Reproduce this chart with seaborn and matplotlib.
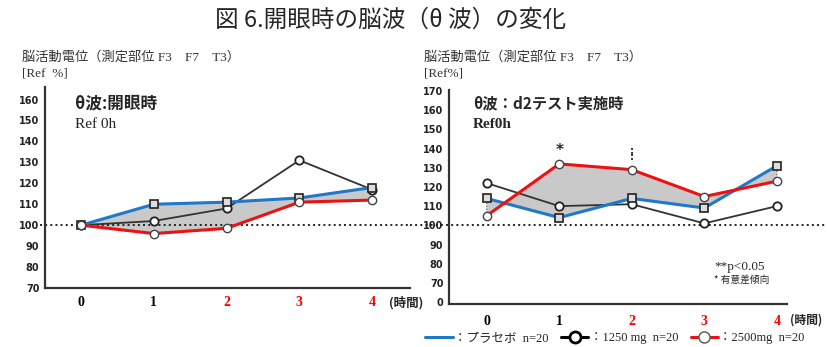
import pandas as pd
import seaborn as sns
import matplotlib.pyplot as plt
from matplotlib.lines import Line2D

sns.set_style('white')
plt.rcParams['font.family'] = ['DejaVu Sans', 'Noto Sans CJK JP']

# data
hours = [0, 1, 2, 3, 4]
hour_labels = ['0', '1', '2', '3', '4']
hour_colors = ['black', 'black', 'red', 'red', 'red']

left_placebo = [100, 110, 111, 113, 118]
left_1250 = [100, 102, 108, 131, 117]
left_2500 = [100, 96, 98.5, 111, 112]

right_placebo = [114, 104, 114, 109, 131]
right_1250 = [122, 110, 111, 101, 110]
right_2500 = [105, 132, 129, 115, 123]

left_yticks = [70, 80, 90, 100, 110, 120, 130, 140, 150, 160]
right_yticks = [60, 70, 80, 90, 100, 110, 120, 130, 140, 150, 160, 170]
right_ylabels = ['0', '70', '80', '90', '100', '110', '120', '130', '140', '150', '160', '170']

JP = ['Noto Sans CJK JP', 'DejaVu Sans']
SERIF_JP = ['Liberation Serif', 'Noto Sans CJK JP']

W, H = 827, 347
fig = plt.figure(figsize=(W / 100, H / 100), dpi=100)


def fx(px):
    return px / W


def fy(py):
    return 1 - py / H


ax1 = fig.add_axes([fx(45), fy(288), fx(410 - 45), (288 - 87) / H])
ax2 = fig.add_axes([fx(449), fy(304), fx(787 - 449), (304 - 90) / H])


def draw_panel(ax, placebo, mid, high, xlim, ylim, yticks, ylabels, line_ext, xpad):
    df = pd.DataFrame({'hour': hours, 'placebo': placebo, 'mid': mid, 'high': high})
    ax.fill_between(df['hour'], df['placebo'], df['high'], color='#c9c9c9',
                    edgecolor='#555555', linestyle=':', linewidth=0.8, zorder=1)
    ax.axhline(100, xmin=line_ext[0], xmax=line_ext[1], color='#222222',
               linestyle=':', linewidth=1.4, clip_on=False, zorder=2)
    sns.lineplot(data=df, x='hour', y='mid', ax=ax, color='#333333', linewidth=1.3,
                 marker='o', markersize=6, markerfacecolor='white',
                 markeredgecolor='#222222', markeredgewidth=1.3, zorder=3)
    sns.lineplot(data=df, x='hour', y='placebo', ax=ax, color='#1f78c8', linewidth=2.2,
                 marker='s', markersize=5.5, markerfacecolor='#dddddd',
                 markeredgecolor='#222222', markeredgewidth=1.2, zorder=4)
    sns.lineplot(data=df, x='hour', y='high', ax=ax, color='#ee1111', linewidth=2.2,
                 marker='o', markersize=6, markerfacecolor='white',
                 markeredgecolor='#444444', markeredgewidth=1.0, zorder=5)
    ax.set_xlim(*xlim)
    ax.set_ylim(*ylim)
    ax.set_yticks(yticks)
    ax.set_yticklabels(ylabels, fontsize=7, fontweight='bold', family='DejaVu Sans')
    ax.set_xticks(hours)
    ax.set_xticklabels(hour_labels, fontsize=10, fontweight='bold', family='Liberation Serif')
    ax.tick_params(axis='y', direction='out', length=3, width=1, pad=1, colors='#222222')
    ax.tick_params(axis='x', direction='out', length=3, width=1, pad=xpad)
    for lab, c in zip(ax.get_xticklabels(), hour_colors):
        lab.set_color(c)
    ax.set_xlabel('')
    ax.set_ylabel('')
    sns.despine(ax=ax)
    for s in ['left', 'bottom']:
        ax.spines[s].set_color('#333333')
        ax.spines[s].set_linewidth(1.6)


draw_panel(ax1, left_placebo, left_1250, left_2500, (-0.495, 4.52), (70, 166),
           left_yticks, [str(t) for t in left_yticks], (-0.014, 1.0), 3)
draw_panel(ax2, right_placebo, right_1250, right_2500, (-0.52, 4.14), (59, 170.5),
           right_yticks, right_ylabels, (-0.115, 1.118), 5)

# title
fig.text(fx(391), fy(20), '図 6.開眼時の脳波（θ 波）の変化', fontsize=17,
         family=SERIF_JP[::-1], ha='center', va='center')

# panel headers
for x0 in (22, 424):
    fig.text(fx(x0), fy(57), '脳活動電位（測定部位 F3　F7　T3）', fontsize=9.5,
             family=SERIF_JP, ha='left', va='center', color='#333333')
fig.text(fx(22), fy(73), '[Ref  %]', fontsize=9.5, family='Liberation Serif',
         ha='left', va='center', color='#333333')
fig.text(fx(424), fy(73), '[Ref%]', fontsize=9.5, family='Liberation Serif',
         ha='left', va='center', color='#333333')

# inner labels
fig.text(fx(75), fy(103), 'θ波:開眼時', fontsize=12, fontweight='bold',
         family=JP, ha='left', va='center')
fig.text(fx(75), fy(124), 'Ref 0h', fontsize=11, family='Liberation Serif',
         ha='left', va='center', color='#222222')
fig.text(fx(473), fy(103), 'θ波：d2テスト実施時', fontsize=11, fontweight='bold',
         family=JP, ha='left', va='center')
fig.text(fx(473), fy(124), 'Ref0h', fontsize=11, fontweight='bold',
         family='Liberation Serif', ha='left', va='center')

# significance marks
ax2.text(1, 135, '*', fontsize=11, ha='center', va='bottom', fontweight='bold')
ax2.text(2, 133, ':\n:', fontsize=7, ha='center', va='bottom', fontweight='bold',
         linespacing=0.5)
fig.text(fx(714), fy(267), '**p<0.05', fontsize=9.5, family='Liberation Serif',
         ha='left', va='center')
fig.text(fx(714), fy(280), '* 有意差傾向', fontsize=7, family=JP,
         ha='left', va='center')

# x unit labels
fig.text(fx(406), fy(303), '(時間)', fontsize=9, fontweight='bold', family=JP,
         ha='center', va='center')
fig.text(fx(806), fy(320), '(時間)', fontsize=8.5, fontweight='bold', family=JP,
         ha='center', va='center')

# legend
handles = [
    Line2D([], [], color='#1f78c8', linewidth=2.2),
    Line2D([], [], color='black', linewidth=2.2, marker='o', markersize=8,
           markerfacecolor='white', markeredgecolor='black', markeredgewidth=2),
    Line2D([], [], color='#ee1111', linewidth=2.2, marker='o', markersize=8,
           markerfacecolor='white', markeredgecolor='#555555', markeredgewidth=1),
]
labels = ['：プラセボ  n=20', '：1250 mg  n=20', '：2500mg  n=20']
fig.legend(handles, labels, loc='center', bbox_to_anchor=(fx(615), fy(338)),
           ncol=3, frameon=False, handlelength=2.2, handletextpad=0.1,
           columnspacing=1.0, borderpad=0, prop={'family': SERIF_JP, 'size': 9})

fig.savefig('out.png', dpi=100)
